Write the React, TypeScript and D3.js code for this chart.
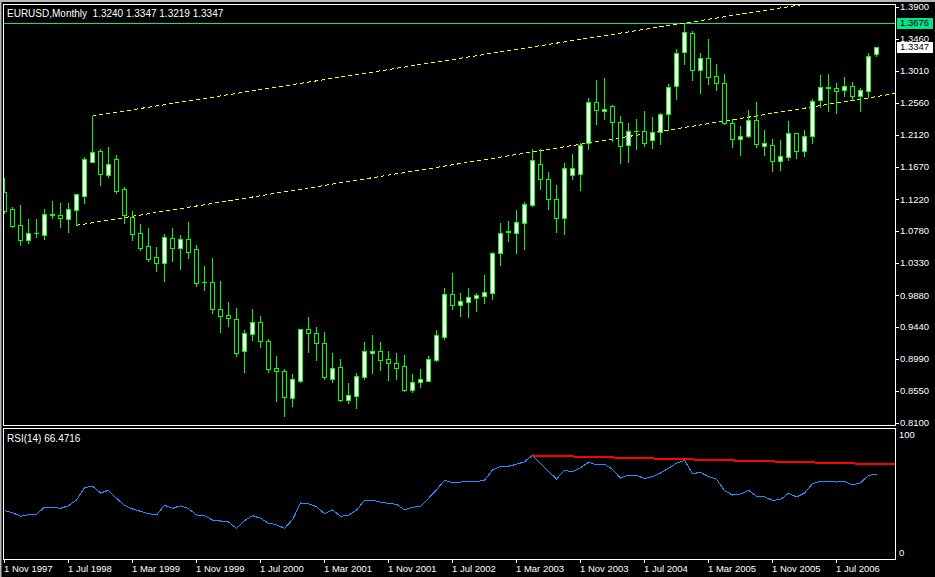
import React from 'react';
import * as d3 from 'd3';

const symbolTitle = 'EURUSD,Monthly';
const lastOHLC = ['1.3240', '1.3347', '1.3219', '1.3347'];
const rsiTitle = 'RSI(14) 66.4716';

const opens = [1.1316,1.1079,1.0856,1.0647,1.0756,1.0725,1.1004,1.0996,1.0940,1.1065,
1.1269,1.1743,1.1892,1.1562,1.1777,1.1358,1.0972,1.0745,1.0568,1.0410,
1.0335,1.0675,1.0544,1.0661,1.0522,1.0062,1.0062,0.9685,0.9602,0.9546,
0.9097,0.9337,0.9504,0.9239,0.8863,0.8821,0.8453,0.8690,0.9406,0.9351,
0.9211,0.8718,0.8877,0.8425,0.8481,0.8737,0.9072,0.9100,0.8988,0.8932,
0.8891,0.8564,0.8676,0.8690,0.8983,0.9303,0.9899,0.9749,0.9791,0.9847,
0.9875,0.9919,1.0466,1.0763,1.0753,1.0893,1.1144,1.1707,1.1498,1.1219,
1.0962,1.1553,1.1567,1.2000,1.2573,1.2446,1.2515,1.2292,1.1972,1.2167,
1.2167,1.2041,1.2153,1.2404,1.2803,1.3268,1.3533,1.3017,1.3185,1.2934,
1.2836,1.2278,1.2064,1.2097,1.2320,1.1966,1.1972,1.1757,1.1813,1.2139,
1.1896,1.2097,1.2599,1.2775,1.2766,1.2738,1.2794,1.2655,1.2733,1.3240];
const highs = [1.1516,1.1107,1.1139,1.0944,1.0944,1.1084,1.1195,1.1167,1.1167,1.1289,
1.1813,1.2380,1.1920,1.1948,1.1836,1.1386,1.1052,1.0874,1.0819,1.0554,
1.0731,1.0819,1.0717,1.0902,1.0577,1.0289,1.0400,1.0080,0.9787,0.9703,
0.9394,0.9689,0.9592,0.9271,0.9034,0.8853,0.8783,0.9411,0.9578,0.9438,
0.9369,0.9072,0.8992,0.8658,0.8793,0.9229,0.9327,0.9229,0.9104,0.9076,
0.9048,0.8783,0.8853,0.9034,0.9397,0.9982,1.0191,0.9912,0.9982,0.9912,
1.0163,1.0481,1.0888,1.0916,1.1070,1.1181,1.1920,1.1920,1.1599,1.1418,
1.1725,1.1850,1.2004,1.2631,1.2882,1.2910,1.2529,1.2380,1.2278,1.2334,
1.2450,1.2366,1.2418,1.2824,1.3314,1.3676,1.3565,1.3259,1.3454,1.3105,
1.2963,1.2334,1.2241,1.2464,1.2575,1.2185,1.2060,1.2046,1.2310,1.2143,
1.2185,1.2613,1.2952,1.2966,1.2840,1.2924,1.2854,1.2766,1.3259,1.3347];
const lows = [1.1032,1.0833,1.0586,1.0614,1.0697,1.0665,1.0962,1.0837,1.0767,1.0856,
1.1171,1.1739,1.1418,1.1530,1.1307,1.0893,1.0651,1.0516,1.0363,1.0219,
1.0080,1.0359,1.0247,1.0405,1.0014,0.9954,0.9638,0.9373,0.9457,0.9038,
0.8815,0.9257,0.9160,0.8815,0.8407,0.8198,0.8337,0.8676,0.9094,0.8983,
0.8718,0.8676,0.8407,0.8379,0.8309,0.8718,0.8797,0.8839,0.8700,0.8713,
0.8546,0.8532,0.8602,0.8686,0.8969,0.9271,0.9689,0.9596,0.9582,0.9666,
0.9777,0.9829,1.0307,1.0637,1.0474,1.0526,1.1130,1.1362,1.1084,1.0763,
1.0735,1.1502,1.1353,1.1916,1.2273,1.2343,1.2027,1.1729,1.1743,1.1924,
1.1966,1.1938,1.1994,1.2192,1.2621,1.3109,1.2886,1.2705,1.2826,1.2736,
1.2270,1.1952,1.1841,1.2087,1.1948,1.1841,1.1618,1.1631,1.1771,1.1799,
1.1827,1.2008,1.2510,1.2454,1.2426,1.2659,1.2599,1.2454,1.2649,1.3219];
const closes = [1.1060,1.0851,1.0656,1.0745,1.0753,1.1010,1.1007,1.0962,1.1079,1.1289,
1.1777,1.1874,1.1576,1.1707,1.1339,1.1004,1.0739,1.0544,1.0391,1.0335,
1.0689,1.0544,1.0661,1.0488,1.0056,1.0059,0.9685,0.9596,0.9560,0.9080,
0.9351,0.9504,0.9247,0.8857,0.8829,0.8467,0.8709,0.9406,0.9359,0.9220,
0.8737,0.8863,0.8421,0.8486,0.8751,0.9100,0.9100,0.8983,0.8941,0.8871,
0.8564,0.8667,0.8709,0.8988,0.9323,0.9899,0.9745,0.9797,0.9853,0.9880,
0.9922,1.0466,1.0745,1.0777,1.0898,1.1149,1.1763,1.1498,1.1219,1.0962,
1.1651,1.1651,1.1972,1.2575,1.2457,1.2474,1.2292,1.1958,1.2167,1.2171,
1.2000,1.2153,1.2404,1.2780,1.3254,1.3547,1.3017,1.3185,1.2931,1.2847,
1.2276,1.2066,1.2097,1.2320,1.1994,1.2000,1.1757,1.1818,1.2139,1.1896,
1.2097,1.2585,1.2780,1.2778,1.2733,1.2794,1.2655,1.2738,1.3213,1.3347];

const rsiValues = [35.7,34.0,31.0,32.3,32.7,38.6,38.6,37.7,39.9,44.7,
55.1,56.5,50.6,52.9,46.2,40.3,37.1,35.2,33.2,32.1,
40.3,37.7,39.9,37.4,32.1,31.5,27.8,27.0,26.2,20.8,
27.3,31.5,29.3,25.1,23.9,20.8,28.1,42.2,41.4,39.1,
33.2,36.3,31.0,31.8,36.3,44.5,44.5,43.0,41.9,41.1,
36.3,38.6,39.4,46.2,53.2,61.4,59.1,59.9,60.3,60.2,
61.4,70.0,73.2,73.2,74.9,77.0,82.4,75.7,68.9,62.4,
69.8,68.4,72.0,76.5,74.5,74.9,70.6,63.3,65.6,65.6,
62.7,64.4,67.5,71.5,75.7,78.2,66.9,68.1,64.4,62.4,
52.6,48.9,49.8,52.9,47.8,47.3,44.5,45.0,50.4,47.3,
50.6,58.5,60.5,60.5,59.9,60.5,57.4,59.1,65.5,66.47];

const dateLabels = ['1 Nov 1997','1 Jul 1998','1 Mar 1999','1 Nov 1999','1 Jul 2000','1 Mar 2001','1 Nov 2001','1 Jul 2002','1 Mar 2003','1 Nov 2003','1 Jul 2004','1 Mar 2005','1 Nov 2005','1 Jul 2006'];
const dateLabelBars = [0,8,16,24,32,40,48,56,64,72,80,88,96,104];

const priceTicks = [1.3900,1.3460,1.3010,1.2560,1.2120,1.1670,1.1220,1.0780,1.0330,0.9880,0.9440,0.8990,0.8550,0.8100];
const priceTickLabels = ['1.3900','1.3460','1.3010','1.2560','1.2120','1.1670','1.1220','1.0780','1.0330','0.9880','0.9440','0.8990','0.8550','0.8100'];
const rsiTicks = [100, 0];

const hLinePrice = 1.3676;
const bidPrice = 1.3347;
// channel anchors: [bar, price]
const upperChannel = [[11, 1.2380], [85, 1.3676]];
const lowerChannel = [[9, 1.0856], [111, 1.2687]];
// RSI trendline anchors: [bar, value]
const rsiTrend = [[66, 82.3], [85, 79.1]];

const W = 935, H = 577;
const FONT = "'Liberation Sans', Arial, sans-serif";

export default function App() {
  const n = opens.length;
  const x = d3.scaleLinear().domain([0, n - 1]).range([4.5, 4.5 + 8 * (n - 1)]);
  const y = d3.scaleLinear().domain([0.81, 1.39]).range([423, 7]);
  const ry = d3.scaleLinear().domain([0, 100]).range([553, 434.5]);
  const px = (v: number) => Math.round(v) + 0.5;

  const pL = 3.5, pR = 895.5, pT = 4.5, pB = 425.5;
  const rT = 428.5, rB = 559.5;

  const lineExt = (a: number[][], sy: (v: number) => number) => {
    const x1 = x(a[0][0]), y1 = sy(a[0][1]);
    const x2 = x(a[1][0]), y2 = sy(a[1][1]);
    const slope = (y2 - y1) / (x2 - x1);
    return { x1, y1, x2: pR, y2: y1 + slope * (pR - x1) };
  };
  const up = lineExt(upperChannel, y);
  const lo = lineExt(lowerChannel, y);
  const rt = lineExt(rsiTrend, ry);

  const rsiLine = d3.line<number>().x((_, i) => x(i)).y(v => ry(v)).curve(d3.curveLinear);

  const candles = opens.map((o, i) => {
    const c = closes[i], h = highs[i], l = lows[i];
    const cx = x(i);
    const yO = y(o), yC = y(c);
    const top = px(Math.min(yO, yC));
    const bot = px(Math.max(yO, yC));
    const bull = c > o;
    const els: any[] = [];
    els.push(<line key="w" x1={cx} x2={cx} y1={Math.round(y(h))} y2={Math.round(y(l)) + 1} stroke="#00ff00" strokeWidth={1} />);
    if (bot - top < 1) {
      els.push(<line key="d" x1={cx - 2.5} x2={cx + 2.5} y1={top} y2={top} stroke="#00ff00" strokeWidth={1} />);
    } else {
      els.push(<rect key="b" x={cx - 2} y={top} width={4} height={bot - top} fill={bull ? '#ffffff' : '#000000'} stroke="#00ff00" strokeWidth={1} />);
    }
    return <g key={i}>{els}</g>;
  });

  return (
    <svg width={W} height={H} style={{ position: 'absolute', left: 0, top: 0, background: '#000' }} fontFamily={FONT}>
      <rect x={0} y={0} width={W} height={H} fill="#000" />
      <rect x={0} y={0} width={W} height={2} fill="#b8b8b8" />
      <rect x={0} y={0} width={1.5} height={H} fill="#b8b8b8" />
      <defs>
        <clipPath id="pclip"><rect x={pL} y={pT} width={pR - pL} height={pB - pT} /></clipPath>
        <clipPath id="rclip"><rect x={pL} y={rT} width={pR - pL} height={rB - rT} /></clipPath>
      </defs>

      <g clipPath="url(#pclip)" shapeRendering="crispEdges">
        <line x1={pL} x2={pR} y1={px(y(hLinePrice))} y2={px(y(hLinePrice))} stroke="#00e68c" strokeWidth={1} />
        <line x1={up.x1} y1={up.y1} x2={up.x2} y2={up.y2} stroke="#ffff00" strokeWidth={1} strokeDasharray="4,3" />
        <line x1={lo.x1} y1={lo.y1} x2={lo.x2} y2={lo.y2} stroke="#ffff00" strokeWidth={1} strokeDasharray="4,3" />
        {candles}
      </g>

      <g clipPath="url(#rclip)" shapeRendering="crispEdges">
        <path d={rsiLine(rsiValues) || ''} fill="none" stroke="#1e90ff" strokeWidth={1} />
        <line x1={rt.x1} y1={rt.y1} x2={rt.x2} y2={rt.y2} stroke="#ff0000" strokeWidth={2} />
      </g>

      <g shapeRendering="crispEdges">
        <rect x={pL} y={pT} width={pR - pL} height={pB - pT} fill="none" stroke="#ffffff" strokeWidth={1} />
        <rect x={pL} y={rT} width={pR - pL} height={rB - rT} fill="none" stroke="#ffffff" strokeWidth={1} />
      </g>

      <text x={7} y={16.5} fill="#ffffff" fontSize={10} style={{ whiteSpace: 'pre' }}>{symbolTitle + '  ' + lastOHLC.join(' ')}</text>
      <text x={7} y={442} fill="#ffffff" fontSize={10}>{rsiTitle}</text>

      {priceTicks.map((t, i) => (
        <g key={'pt' + i}>
          <line x1={pR} x2={pR + 3} y1={px(y(t))} y2={px(y(t))} stroke="#ffffff" shapeRendering="crispEdges" />
          <text x={900} y={y(t)} dy="0.35em" fill="#ffffff" fontSize={9.5}>{priceTickLabels[i]}</text>
        </g>
      ))}

      <rect x={897} y={Math.round(y(hLinePrice)) - 5} width={36} height={11} fill="#00e68c" />
      <text x={900} y={y(hLinePrice)} dy="0.35em" fill="#000" fontSize={9.5}>{hLinePrice.toFixed(4)}</text>
      <rect x={897} y={Math.round(y(bidPrice)) - 5} width={36} height={11} fill="#ffffff" />
      <text x={900} y={y(bidPrice)} dy="0.35em" fill="#000" fontSize={9.5}>{bidPrice.toFixed(4)}</text>

      {rsiTicks.map((t, i) => (
        <text key={'rt' + i} x={899} y={ry(t)} dy="0.35em" fill="#ffffff" fontSize={9.5}>{String(t)}</text>
      ))}

      {dateLabelBars.map((b, i) => (
        <g key={'dl' + i}>
          <line x1={x(b)} x2={x(b)} y1={rB} y2={rB + 3} stroke="#ffffff" shapeRendering="crispEdges" />
          <text x={x(b) - 0.5} y={571.5} fill="#ffffff" fontSize={9.5}>{dateLabels[i]}</text>
        </g>
      ))}
    </svg>
  );
}
